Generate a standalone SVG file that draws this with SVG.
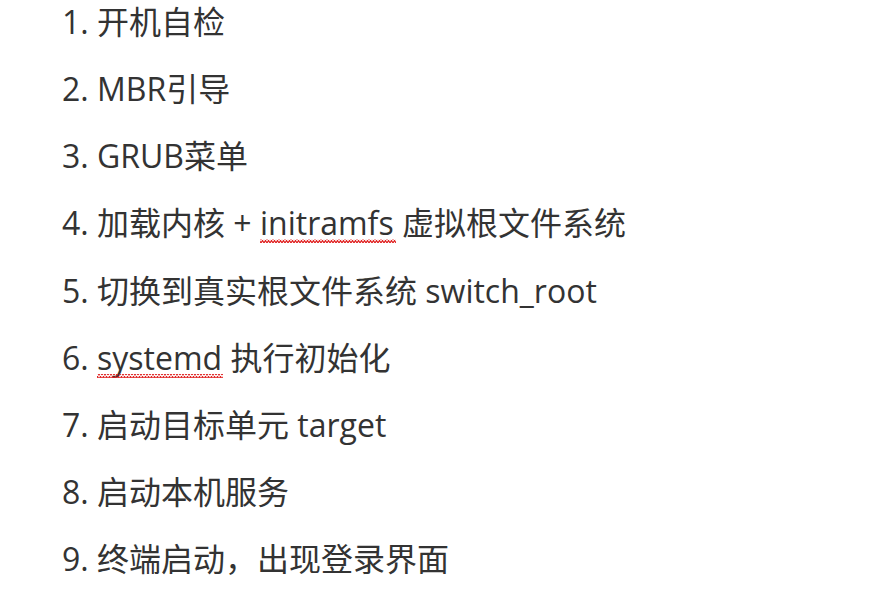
<svg xmlns="http://www.w3.org/2000/svg" width="870" height="604" viewBox="0 0 870 604">
<defs>
<pattern id="wave" width="6" height="4" patternUnits="userSpaceOnUse"><path d="M0 3 L1.5 0.5 L3 3 L4.5 0.5 L6 3" fill="none" stroke="#e02020" stroke-width="1.2"/></pattern>
</defs>
<style>
text{font-family:"Open Sans","Noto Sans CJK SC",sans-serif;font-size:32px;fill:#333}
</style>
<rect width="870" height="604" fill="#fff"/>
<g id="list">
<text x="62" y="34">1. 开机自检</text>
<text x="62" y="101">2. MBR引导</text>
<text x="62" y="168">3. GRUB菜单</text>
<text x="62" y="235">4. 加载内核 + initramfs 虚拟根文件系统</text>
<text x="62" y="303">5. 切换到真实根文件系统 switch_root</text>
<text x="62" y="370">6. systemd 执行初始化</text>
<text x="62" y="437">7. 启动目标单元 target</text>
<text x="62" y="504">8. 启动本机服务</text>
<text x="62" y="571">9. 终端启动，出现登录界面</text>
</g>
<rect x="260" y="239" width="136" height="4" fill="url(#wave)"/>
<rect x="97" y="374" width="126" height="4" fill="url(#wave)"/>
</svg>
